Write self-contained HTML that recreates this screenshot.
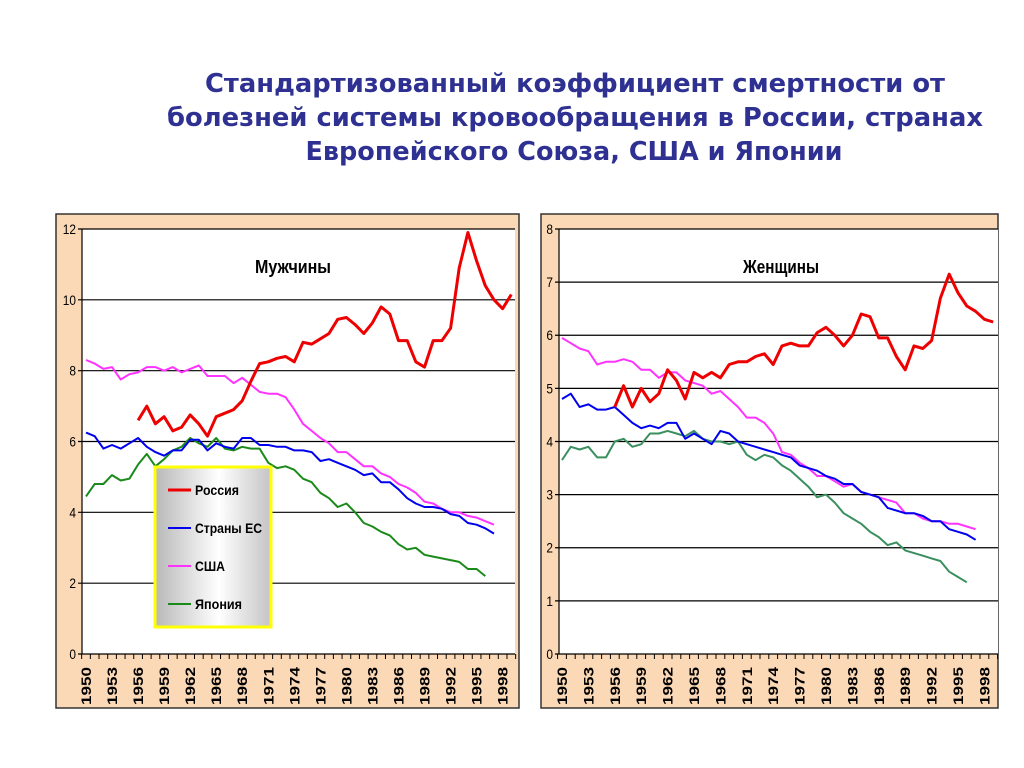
<!DOCTYPE html>
<html><head><meta charset="utf-8"><style>
body{margin:0;background:#fff;}
svg{display:block;font-family:"Liberation Sans",sans-serif;}
</style></head><body>
<svg id="root" width="1024" height="768">
<g font-family="DejaVu Sans, sans-serif" font-weight="bold" font-size="26" fill="#2e3192" text-anchor="middle">
<text x="575" y="92" textLength="740" lengthAdjust="spacingAndGlyphs">Стандартизованный коэффициент смертности от</text>
<text x="575" y="126" textLength="816" lengthAdjust="spacingAndGlyphs">болезней системы кровообращения в России, странах</text>
<text x="574" y="160" textLength="537" lengthAdjust="spacingAndGlyphs">Европейского Союза, США и Японии</text>
</g>
<g id="left"></g>
<g id="right"></g>
</svg>
<script>
const menRussia=[6.6,7.0,6.5,6.7,6.3,6.4,6.75,6.5,6.15,6.7,6.8,6.9,7.15,7.7,8.2,8.25,8.35,8.4,8.25,8.8,8.75,8.9,9.05,9.45,9.5,9.3,9.05,9.35,9.8,9.6,8.85,8.85,8.25,8.1,8.85,8.85,9.2,10.9,11.9,11.1,10.4,10.0,9.75,10.15];
const menEU=[6.25,6.15,5.8,5.9,5.8,5.95,6.1,5.85,5.7,5.6,5.75,5.75,6.05,6.05,5.75,5.95,5.85,5.8,6.1,6.1,5.9,5.9,5.85,5.85,5.75,5.75,5.7,5.45,5.5,5.4,5.3,5.2,5.05,5.1,4.85,4.85,4.65,4.4,4.25,4.15,4.15,4.1,3.95,3.9,3.7,3.65,3.55,3.4];
const menUSA=[8.3,8.2,8.05,8.1,7.75,7.9,7.95,8.1,8.1,8.0,8.1,7.95,8.05,8.15,7.85,7.85,7.85,7.65,7.8,7.6,7.4,7.35,7.35,7.25,6.9,6.5,6.3,6.1,5.95,5.7,5.7,5.5,5.3,5.3,5.1,5.0,4.8,4.7,4.55,4.3,4.25,4.1,4.0,4.0,3.9,3.85,3.75,3.65];
const menJapan=[4.45,4.8,4.8,5.05,4.9,4.95,5.35,5.65,5.3,5.5,5.75,5.85,6.1,5.95,5.85,6.1,5.8,5.75,5.85,5.8,5.8,5.4,5.25,5.3,5.2,4.95,4.85,4.55,4.4,4.15,4.25,4.0,3.7,3.6,3.45,3.35,3.1,2.95,3.0,2.8,2.75,2.7,2.65,2.6,2.4,2.4,2.2];
const womenRussia=[4.65,5.05,4.65,5.0,4.75,4.9,5.35,5.15,4.8,5.3,5.2,5.3,5.2,5.45,5.5,5.5,5.6,5.65,5.45,5.8,5.85,5.8,5.8,6.05,6.15,6.0,5.8,6.0,6.4,6.35,5.95,5.95,5.6,5.35,5.8,5.75,5.9,6.7,7.15,6.8,6.55,6.45,6.3,6.25];
const womenEU=[4.8,4.9,4.65,4.7,4.6,4.6,4.65,4.5,4.35,4.25,4.3,4.25,4.35,4.35,4.05,4.15,4.05,3.95,4.2,4.15,4.0,3.95,3.9,3.85,3.8,3.75,3.7,3.55,3.5,3.45,3.35,3.3,3.2,3.2,3.05,3.0,2.95,2.75,2.7,2.65,2.65,2.6,2.5,2.5,2.35,2.3,2.25,2.15];
const womenUSA=[5.95,5.85,5.75,5.7,5.45,5.5,5.5,5.55,5.5,5.35,5.35,5.2,5.3,5.3,5.15,5.1,5.05,4.9,4.95,4.8,4.65,4.45,4.45,4.35,4.15,3.8,3.75,3.6,3.5,3.35,3.35,3.25,3.15,3.2,3.05,3.0,2.95,2.9,2.85,2.65,2.65,2.55,2.5,2.5,2.45,2.45,2.4,2.35];
const womenJapan=[3.65,3.9,3.85,3.9,3.7,3.7,4.0,4.05,3.9,3.95,4.15,4.15,4.2,4.15,4.1,4.2,4.05,4.0,4.0,3.95,4.0,3.75,3.65,3.75,3.7,3.55,3.45,3.3,3.15,2.95,3.0,2.85,2.65,2.55,2.45,2.3,2.2,2.05,2.1,1.95,1.9,1.85,1.8,1.75,1.55,1.45,1.35];
const tickYears=[1950,1953,1956,1959,1962,1965,1968,1971,1974,1977,1980,1983,1986,1989,1992,1995,1998];
const menYTicks=[0,2,4,6,8,10,12];
const womenYTicks=[0,1,2,3,4,5,6,7,8];
const NS="http://www.w3.org/2000/svg";
function mk(p,t,a){const e=document.createElementNS(NS,t);for(const k in a)e.setAttribute(k,a[k]);p.appendChild(e);return e;}
function chart(g,o){
  const panel=mk(g,'rect',{x:o.px,y:214,width:o.pw,height:494,fill:'#fcd9b6',stroke:'#333','stroke-width':1.5});
  
  
  const plot=mk(g,'rect',{x:o.ax,y:229,width:o.right-o.ax,height:425,fill:'#fff'});
  
  
  const y=v=>654-v/o.ymax*425;
  const x=yr=>o.x0+(yr-1950)*o.step;
  o.yTicks.forEach(v=>{
    const l=mk(g,'line',{x1:o.ax-4,x2:o.right,y1:y(v),y2:y(v),stroke:'#000','stroke-width':1.2});
    
    
    const t=mk(g,'text',{x:o.ax-6,y:y(v)+5,'text-anchor':'end','font-size':14,transform:`translate(${(o.ax-6)*0.15},0) scale(0.85,1)`});
    t.textContent=v;
    
    
  });
  const ax=mk(g,'line',{x1:o.ax,x2:o.ax,y1:229,y2:654,stroke:'#000','stroke-width':1.2});
  
  
  for(let yr=1950;yr<=2000;yr++){
    const tx=o.x0+(yr-1950)*o.step-o.step/2;
    if(tx>o.right+1)break;
    mk(g,'line',{x1:tx,x2:tx,y1:654,y2:659,stroke:'#000','stroke-width':1});
  }
  tickYears.forEach(yr=>{
    const t=mk(g,'text',{transform:`translate(${x(yr)+5},705) rotate(-90)`,'font-size':14,'font-weight':'bold',textLength:38,lengthAdjust:'spacingAndGlyphs'});
    t.textContent=yr;
    
    
  });
  const tt=mk(g,'text',{x:o.tx,y:273,'text-anchor':'middle','font-size':18,'font-weight':'bold',textLength:o.tl,lengthAdjust:'spacingAndGlyphs'});
  tt.textContent=o.title;
  
  
  o.series.forEach(s=>{
    const pts=s.v.map((v,i)=>x(s.start+i).toFixed(1)+','+y(v).toFixed(1)).join(' ');
    const pl=mk(g,'polyline',{points:pts,fill:'none',stroke:s.c,'stroke-width':s.w,'stroke-linejoin':'round'});
    
    
  });
}
chart(document.getElementById('left'),{px:56,pw:463,ax:82,right:515,x0:86,step:8.68,ymax:12,yTicks:menYTicks,title:'Мужчины',tx:293,tl:76,
 series:[{v:menJapan,start:1950,c:'#1a8a1a',w:2,n:'line-japan'},{v:menUSA,start:1950,c:'#ff33ff',w:2,n:'line-usa'},{v:menEU,start:1950,c:'#0000ee',w:2,n:'line-eu'},{v:menRussia,start:1956,c:'#ee0000',w:3,n:'line-russia'}]});
chart(document.getElementById('right'),{px:541,pw:457,ax:559,right:998,x0:562,step:8.8,ymax:8,yTicks:womenYTicks,title:'Женщины',tx:781,tl:76,
 series:[{v:womenJapan,start:1950,c:'#3a8f5f',w:2,n:'line-japan'},{v:womenUSA,start:1950,c:'#ff33ff',w:2,n:'line-usa'},{v:womenEU,start:1950,c:'#0000ee',w:2,n:'line-eu'},{v:womenRussia,start:1956,c:'#ee0000',w:3,n:'line-russia'}]});
const L=document.getElementById('left');
const defs=mk(L,'defs',{});
const gr=mk(defs,'linearGradient',{id:'lg',x1:0,x2:1,y1:0,y2:0});
mk(gr,'stop',{offset:0,'stop-color':'#b8b8b8'});mk(gr,'stop',{offset:0.55,'stop-color':'#ffffff'});mk(gr,'stop',{offset:1,'stop-color':'#c4c4c4'});
const lg=mk(L,'g',{});


mk(lg,'rect',{x:155,y:467,width:116,height:160,fill:'url(#lg)',stroke:'#ffff00','stroke-width':3});
const items=[['Россия','#ee0000',3,44],['Страны ЕС','#0000ee',2,67],['США','#ff33ff',2,30],['Япония','#1a8a1a',2,47]];
items.forEach((it,i)=>{
  const yy=490+i*38;
  const e=mk(lg,'g',{});
  
  
  mk(e,'line',{x1:168,x2:191,y1:yy,y2:yy,stroke:it[1],'stroke-width':it[2]});
  const t=mk(e,'text',{x:195,y:yy+5,'font-size':14,'font-weight':'bold',textLength:it[3],lengthAdjust:'spacingAndGlyphs'});
  t.textContent=it[0];
});
</script>
</body></html>
